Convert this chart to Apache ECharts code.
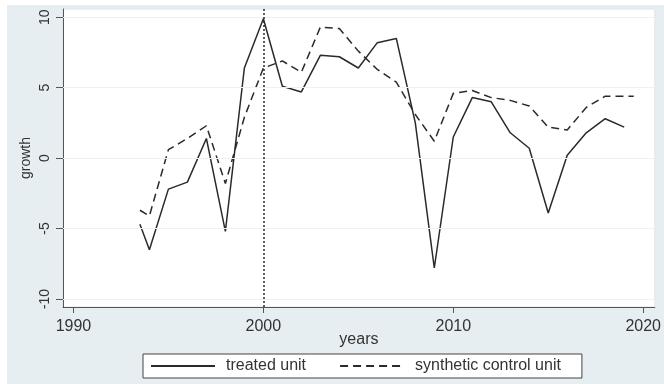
<!DOCTYPE html>
<html>
<head>
<meta charset="utf-8">
<script src="https://cdn.jsdelivr.net/npm/echarts@6/dist/echarts.min.js"></script>
<style>
  html, body { margin: 0; padding: 0; background: #ffffff; }
  #frame { position: absolute; left: 7px; top: 5px; width: 657px; height: 379px; background: #e7eef2; }
  #chart { position: absolute; left: 0; top: 0; width: 664px; height: 384px; }
</style>
</head>
<body>
<div id="frame"></div>
<div id="chart"></div>
<script>
// Annual growth of the treated unit and its synthetic control
const treatedYears = [1993.5, 1994, 1995, 1996, 1997, 1998, 1999, 2000, 2001, 2002, 2003, 2004, 2005, 2006,
  2007, 2008, 2009, 2010, 2011, 2012, 2013, 2014, 2015, 2016, 2017, 2018, 2019];
const treatedGrowth = [-4.7, -6.5, -2.2, -1.7, 1.4, -5.2, 6.4, 9.9, 5.1, 4.7, 7.3, 7.2, 6.4, 8.2,
  8.5, 2.5, -7.8, 1.5, 4.3, 4.0, 1.8, 0.7, -3.9, 0.2, 1.8, 2.8, 2.2];

const syntheticYears = [1993.5, 1994, 1995, 1996, 1997, 1998, 1999, 2000, 2001, 2002, 2003, 2004, 2005, 2006,
  2007, 2008, 2009, 2010, 2011, 2012, 2013, 2014, 2015, 2016, 2017, 2018, 2019, 2019.5];
const syntheticGrowth = [-3.7, -4.1, 0.6, 1.4, 2.3, -1.8, 2.9, 6.4, 6.9, 6.1, 9.3, 9.2, 7.6, 6.3,
  5.4, 3.1, 1.2, 4.6, 4.8, 4.3, 4.1, 3.7, 2.2, 2.0, 3.6, 4.4, 4.4, 4.4];

const xTicks = [1990, 2000, 2010, 2020];
const yTicks = [-10, -5, 0, 5, 10];
const treatmentYear = 2000;

const FONT = '"Liberation Sans", Arial, sans-serif';
const INK = '#2a2a2a';
const AXIS = '#555555';

const pairs = (xs, ys) => xs.map((x, i) => [x, ys[i]]);

const chart = echarts.init(document.getElementById('chart'), null, { renderer: 'canvas' });

chart.setOption({
  animation: false,
  backgroundColor: 'transparent',
  textStyle: { fontFamily: FONT },
  grid: {
    left: 63, top: 9, width: 598, height: 298,
    show: true, backgroundColor: '#ffffff', borderColor: '#dfe6ea', borderWidth: 1,
    containLabel: false
  },
  xAxis: {
    type: 'value',
    min: 1989.45, max: 2020.61,
    name: 'years', nameLocation: 'middle', nameGap: 25, nameMoveOverlap: false,
    nameTextStyle: { fontSize: 16, color: '#333', fontFamily: FONT },
    axisLine: { show: true, onZero: false, lineStyle: { color: AXIS, width: 1 } },
    axisTick: { show: true, length: 6, customValues: xTicks, lineStyle: { color: AXIS } },
    axisLabel: {
      customValues: xTicks, margin: 12, fontSize: 16, color: '#333', fontFamily: FONT,
      formatter: v => String(v)
    },
    splitLine: { show: false }
  },
  yAxis: {
    type: 'value',
    min: -10.57, max: 10.59,
    name: 'growth', nameLocation: 'middle', nameGap: 30, nameRotate: 90, nameMoveOverlap: false,
    nameTextStyle: { fontSize: 14, color: '#333', fontFamily: FONT },
    axisLine: { show: true, onZero: false, lineStyle: { color: AXIS, width: 1 } },
    axisTick: { show: true, length: 7, customValues: yTicks, lineStyle: { color: AXIS } },
    axisLabel: {
      customValues: yTicks, rotate: 90, margin: 11, fontSize: 14, color: '#333', fontFamily: FONT,
      formatter: v => String(v)
    },
    splitLine: { show: false }
  },
  legend: {
    left: 143, top: 354,
    orient: 'horizontal',
    data: ['treated unit', 'synthetic control unit'],
    itemWidth: 64, itemHeight: 14, itemGap: 33,
    padding: [4, 21, 4, 7],
    backgroundColor: '#ffffff', borderColor: '#444444', borderWidth: 1, borderRadius: 0,
    itemStyle: { color: 'rgba(0,0,0,0)', borderWidth: 0, opacity: 0 },
    textStyle: { fontSize: 16, color: '#333', fontFamily: FONT, padding: [0, 0, 0, 6] },
    selectedMode: false
  },
  series: [
    {
      // horizontal reference lines at each labelled growth value
      type: 'line', data: [], z: 1, silent: true,
      markLine: {
        silent: true, symbol: 'none', label: { show: false },
        lineStyle: { color: '#edf1f3', width: 1, type: 'solid' },
        data: yTicks.map(v => ({ yAxis: v }))
      }
    },
    {
      // treatment year
      type: 'line', data: [], z: 2, silent: true,
      markLine: {
        silent: true, symbol: 'none', label: { show: false },
        lineStyle: { color: INK, width: 1.5, type: [2, 2] },
        data: [{ xAxis: treatmentYear }]
      }
    },
    {
      name: 'treated unit',
      type: 'line', z: 3,
      data: pairs(treatedYears, treatedGrowth),
      symbol: 'none', showSymbol: false,
      lineStyle: { color: INK, width: 1.5, type: 'solid' },
      itemStyle: { color: INK }
    },
    {
      name: 'synthetic control unit',
      type: 'line', z: 3,
      data: pairs(syntheticYears, syntheticGrowth),
      symbol: 'none', showSymbol: false,
      lineStyle: { color: INK, width: 1.5, type: [8, 5] },
      itemStyle: { color: INK }
    }
  ]
});
</script>
</body>
</html>
